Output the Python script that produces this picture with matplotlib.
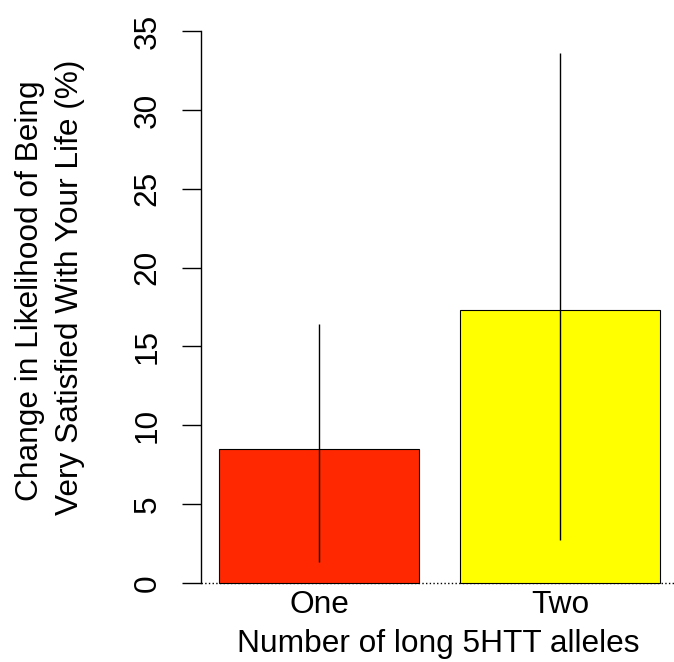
import matplotlib
matplotlib.use('Agg')
import matplotlib.pyplot as plt

# values
categories = ['One', 'Two']
means = [8.5, 17.3]
lower = [1.3, 2.7]
upper = [16.4, 33.6]
bar_colors = ['#FF2800', '#FFFF00']
yticks = [0, 5, 10, 15, 20, 25, 30, 35]

plt.rcParams['font.family'] = ['Liberation Sans', 'DejaVu Sans']
FS = 22.8

W, H = 674, 662
fig = plt.figure(figsize=(W / 100, H / 100), dpi=100)
# plot region in pixels: x 201..678, y 9..605
ax = fig.add_axes([201 / W, (H - 605) / H, (678 - 201) / W, (605 - 9) / H])

# R barplot layout: width 1, space 0.2
lefts = [0.2 + i * 1.2 for i in range(len(categories))]
centers = [l + 0.5 for l in lefts]
ax.bar(lefts, means, width=1.0, align='edge', color=bar_colors,
       edgecolor='black', linewidth=0.8, zorder=2)
ax.vlines(centers, lower, upper, color='black', linewidth=1.0, zorder=3)
ax.axhline(0, color='black', linestyle=':', linewidth=1.0, zorder=1)

ax.set_xlim(0.112, 2.488)
ax.set_ylim(-1.4, 36.4)

for s in ['top', 'right', 'bottom']:
    ax.spines[s].set_visible(False)
ax.spines['left'].set_bounds(0, 35)
ax.spines['left'].set_linewidth(1.0)

ax.set_yticks(yticks)
ax.set_yticklabels([str(t) for t in yticks], rotation=90, va='center', fontsize=FS)
ax.tick_params(axis='y', length=13.7, width=1.0, pad=14)

ax.set_xticks(centers)
ax.set_xticklabels(categories, fontsize=FS, va='baseline')
ax.tick_params(axis='x', length=0, pad=5.8)

fig.text(438 / W, (H - 652) / H, 'Number of long 5HTT alleles', ha='center',
         va='baseline', fontsize=FS)
fig.text(38 / W, (H - 291) / H, 'Change in Likelihood of Being', rotation=90,
         rotation_mode='anchor', ha='center', va='baseline', fontsize=FS)
fig.text(78 / W, (H - 287) / H, 'Very Satisfied With Your Life (%)', rotation=90,
         rotation_mode='anchor', ha='center', va='baseline', fontsize=FS)

fig.savefig('out.png', dpi=100)
